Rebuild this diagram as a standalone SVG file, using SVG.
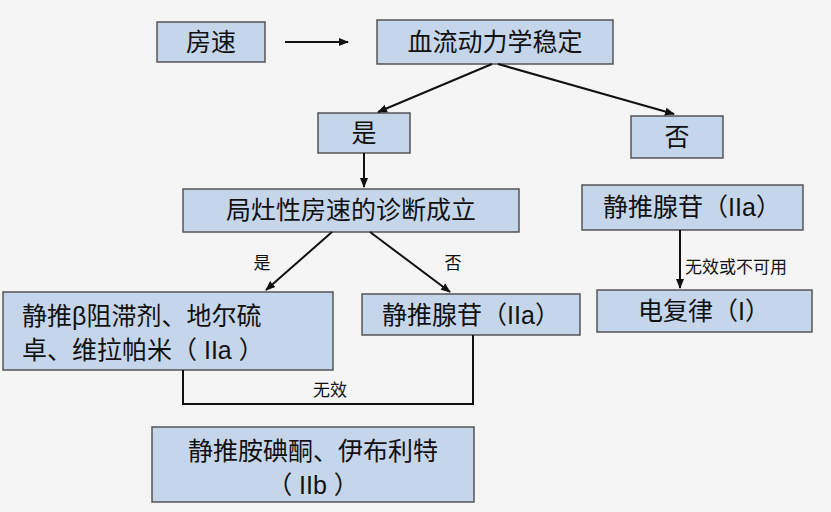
<svg xmlns="http://www.w3.org/2000/svg" width="831" height="512" viewBox="0 0 831 512">
<style>
.b{fill:#c6d6ea;stroke:#555;stroke-width:1.5}
.t{font-family:"Liberation Sans","Noto Sans CJK SC",sans-serif;font-size:25px;fill:#111;text-anchor:middle}
.l{text-anchor:start}
.s{font-family:"Liberation Sans","Noto Sans CJK SC",sans-serif;font-size:17px;fill:#111;text-anchor:middle}
.c{stroke:#111;stroke-width:2;fill:none}
</style>
<defs><marker id="a" markerWidth="10" markerHeight="10" refX="9" refY="5" orient="auto" markerUnits="userSpaceOnUse"><path d="M0,1 L10,5 L0,9 z" fill="#111"/></marker></defs>
<rect width="831" height="512" fill="#f5f5f5"/>
<g id="n1"><rect class="b" x="157" y="22" width="108" height="40"/><text class="t" x="211" y="51">房速</text></g>
<g id="n2"><rect class="b" x="377" y="20" width="236" height="44"/><text class="t" x="495" y="51">血流动力学稳定</text></g>
<g id="n3"><rect class="b" x="318" y="113" width="92" height="40"/><text class="t" x="364" y="142">是</text></g>
<g id="n4"><rect class="b" x="631" y="116" width="92" height="42"/><text class="t" x="677" y="146">否</text></g>
<g id="n5"><rect class="b" x="183" y="189" width="336" height="43"/><text class="t" x="351" y="219">局灶性房速的诊断成立</text></g>
<g id="n6"><rect class="b" x="582" y="185" width="221" height="45"/><text class="t" x="692" y="216">静推腺苷（IIa）</text></g>
<g id="n7"><rect class="b" x="597" y="290" width="215" height="42"/><text class="t" x="704" y="320">电复律（I）</text></g>
<g id="n8"><rect class="b" x="3" y="292" width="330" height="78"/><text class="t l" x="22" y="325">静推β阻滞剂、地尔硫</text><text class="t l" x="22" y="359">卓、维拉帕米（ IIa ）</text></g>
<g id="n9"><rect class="b" x="362" y="294" width="218" height="41"/><text class="t" x="471" y="324">静推腺苷（IIa）</text></g>
<g id="n10"><rect class="b" x="152" y="427" width="322" height="75"/><text class="t" x="313" y="460">静推胺碘酮、伊布利特</text><text class="t" x="313" y="494">（ IIb ）</text></g>
<g id="connectors">
<line class="c" x1="285" y1="42" x2="348" y2="42" marker-end="url(#a)"/>
<line class="c" x1="492" y1="64" x2="378" y2="112" marker-end="url(#a)"/>
<line class="c" x1="498" y1="64" x2="674" y2="114" marker-end="url(#a)"/>
<line class="c" x1="364" y1="153" x2="364" y2="187" marker-end="url(#a)"/>
<line class="c" x1="332" y1="232" x2="266" y2="290" marker-end="url(#a)"/>
<line class="c" x1="370" y1="232" x2="450" y2="292" marker-end="url(#a)"/>
<line class="c" x1="680" y1="230" x2="680" y2="288" marker-end="url(#a)"/>
<polyline class="c" points="183,370 183,404 473,404 473,335"/>
<text class="s" x="262" y="269">是</text>
<text class="s" x="453" y="269">否</text>
<text class="s" x="736" y="273">无效或不可用</text>
<text class="s" x="330" y="396">无效</text>
</g>
</svg>
